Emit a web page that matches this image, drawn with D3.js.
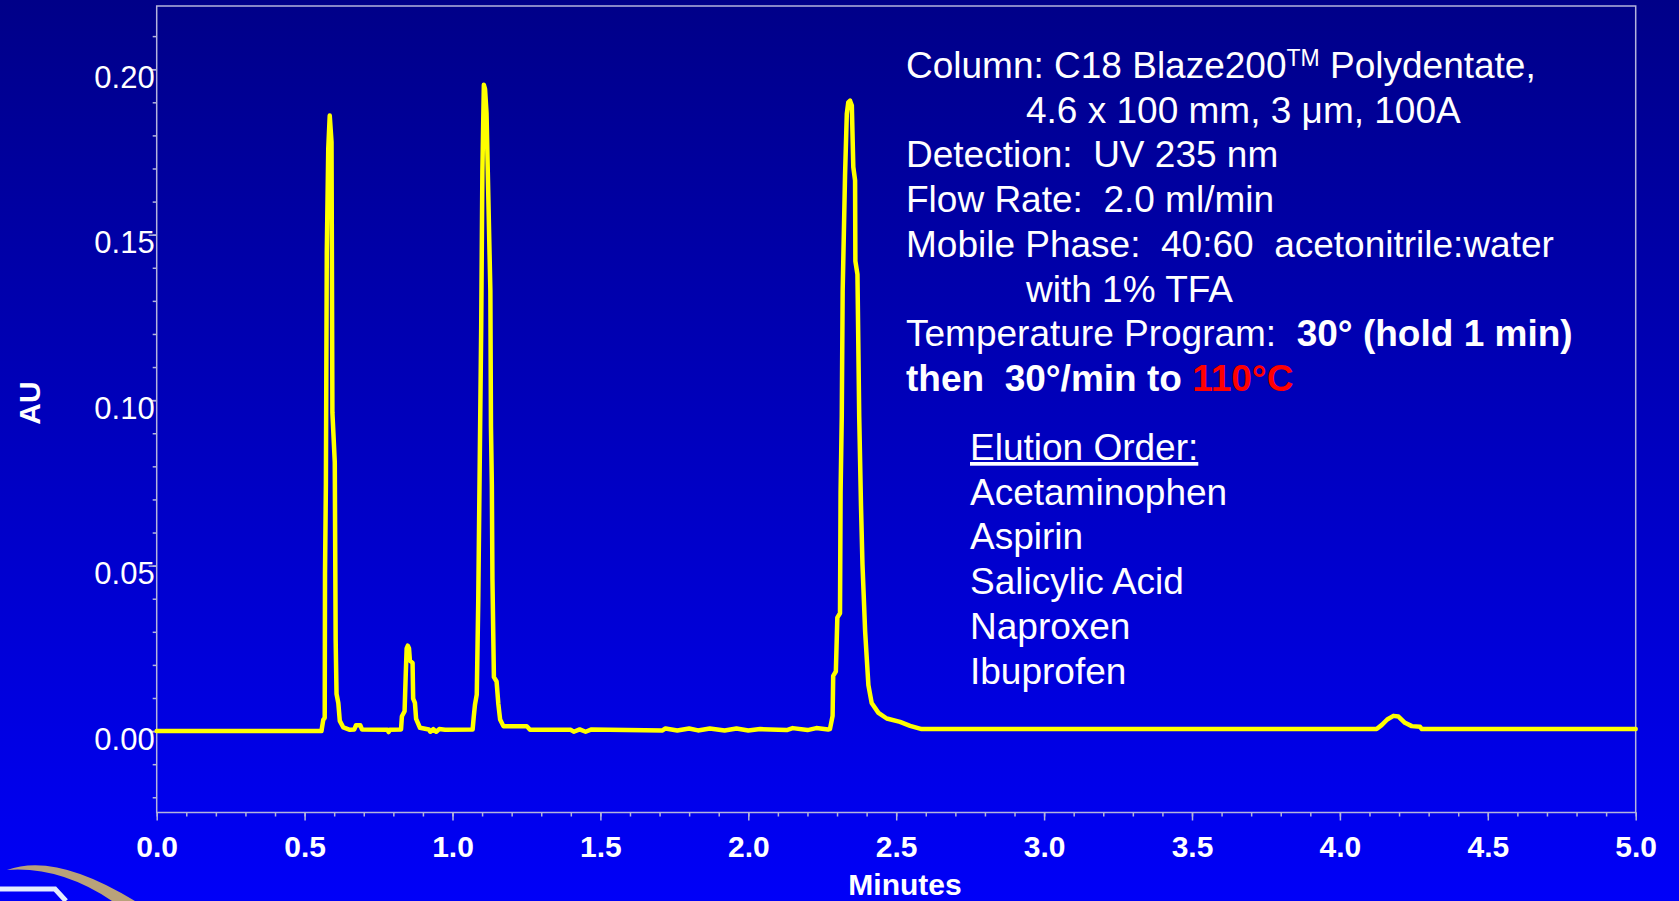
<!DOCTYPE html>
<html>
<head>
<meta charset="utf-8">
<script src="https://cdn.jsdelivr.net/npm/d3@7"></script>
<style>
  html, body { margin: 0; padding: 0; overflow: hidden; background: #0000c0; }
  svg { display: block; font-family: 'Liberation Sans', Arial, sans-serif; }
  .note { fill: #fff; font-size: 37px; }
  .axis text { fill: #fff; }
  .axis line { stroke: #b4b4dc; stroke-width: 1.5; }
</style>
</head>
<body>
<div id="chart"></div>
<script>
// chromatogram trace (minutes, AU)
const traceTime = [
  0.000, 0.557, 0.563, 0.568, 0.569, 0.572, 0.575, 0.580, 0.585, 0.591,
  0.594, 0.602, 0.605, 0.608, 0.614, 0.619, 0.631, 0.653, 0.668, 0.674,
  0.688, 0.694, 0.780, 0.784, 0.788, 0.826, 0.829, 0.838, 0.842, 0.845,
  0.849, 0.853, 0.856, 0.865, 0.867, 0.873, 0.877, 0.890, 0.920, 0.925,
  0.935, 0.945, 0.955, 0.975, 1.068, 1.072, 1.076, 1.082, 1.087, 1.097,
  1.101, 1.106, 1.110, 1.115, 1.128, 1.130, 1.133, 1.135, 1.140, 1.149,
  1.155, 1.161, 1.172, 1.251, 1.262, 1.400, 1.410, 1.430, 1.450, 1.470,
  1.710, 1.720, 1.760, 1.800, 1.830, 1.870, 1.920, 1.960, 2.000, 2.040,
  2.130, 2.150, 2.200, 2.230, 2.270, 2.276, 2.285, 2.287, 2.296, 2.301,
  2.310, 2.312, 2.316, 2.319, 2.327, 2.333, 2.338, 2.344, 2.350, 2.355,
  2.361, 2.362, 2.369, 2.375, 2.381, 2.386, 2.395, 2.406, 2.417, 2.440,
  2.468, 2.513, 2.547, 2.586, 4.124, 4.141, 4.160, 4.181, 4.198, 4.220,
  4.243, 4.271, 4.277, 5.000
];
const traceAU = [
  0.0000, 0.0000, 0.0034, 0.0040, 0.0476, 0.0746, 0.1447, 0.1760, 0.1860, 0.1780,
  0.0962, 0.0813, 0.0275, 0.0112, 0.0085, 0.0031, 0.0011, 0.0004, 0.0005, 0.0018,
  0.0018, 0.0005, 0.0004, -0.0003, 0.0004, 0.0005, 0.0045, 0.0060, 0.0173, 0.0250,
  0.0258, 0.0250, 0.0213, 0.0206, 0.0098, 0.0085, 0.0037, 0.0010, 0.0005, -0.0002,
  0.0006, -0.0002, 0.0006, 0.0004, 0.0005, 0.0045, 0.0080, 0.0110, 0.0390, 0.1217,
  0.1690, 0.1953, 0.1940, 0.1868, 0.1330, 0.0921, 0.0746, 0.0460, 0.0163, 0.0150,
  0.0082, 0.0035, 0.0015, 0.0015, 0.0004, 0.0004, -0.0002, 0.0005, -0.0002, 0.0005,
  0.0002, 0.0008, 0.0002, 0.0008, 0.0002, 0.0008, 0.0002, 0.0008, 0.0002, 0.0006,
  0.0003, 0.0009, 0.0003, 0.0009, 0.0005, 0.0006, 0.0046, 0.0167, 0.0180, 0.0343,
  0.0356, 0.0721, 0.0952, 0.1329, 0.1677, 0.1865, 0.1900, 0.1905, 0.1890, 0.1704,
  0.1664, 0.1420, 0.1380, 0.0949, 0.0680, 0.0503, 0.0301, 0.0139, 0.0085, 0.0055,
  0.0038, 0.0028, 0.0016, 0.0006, 0.0006, 0.0018, 0.0035, 0.0046, 0.0044, 0.0025,
  0.0015, 0.0013, 0.0006, 0.0006
];

const xTicks = [0, 0.5, 1, 1.5, 2, 2.5, 3, 3.5, 4, 4.5, 5];
const yTicks = [0, 0.05, 0.1, 0.15, 0.2];
const elutionOrder = ['Acetaminophen', 'Aspirin', 'Salicylic Acid', 'Naproxen', 'Ibuprofen'];

const width = 1679;
const height = 901;
const sp = '\u00a0'; // keeps the double spaces of the slide text

const svg = d3
  .select('#chart')
  .append('svg')
  .attr('width', width)
  .attr('height', height);

// background gradient, dark navy to bright blue
const grad = svg
  .append('defs')
  .append('linearGradient')
  .attr('id', 'bg')
  .attr('x1', 0)
  .attr('y1', 0)
  .attr('x2', 0)
  .attr('y2', 1);
grad.append('stop').attr('offset', '0%').attr('stop-color', '#000088');
grad.append('stop').attr('offset', '100%').attr('stop-color', '#0000f8');
svg.append('rect').attr('width', width).attr('height', height).attr('fill', 'url(#bg)');

const xScale = d3.scaleLinear().domain([0, 5]).range([156.7, 1635.7]);
const yScale = d3.scaleLinear().domain([-0.0246, 0.2191]).range([812.5, 6]);

// plot frame
svg
  .append('rect')
  .attr('x', xScale(0))
  .attr('y', yScale(0.2191))
  .attr('width', xScale(5) - xScale(0))
  .attr('height', yScale(-0.0246) - yScale(0.2191))
  .attr('fill', 'none')
  .attr('stroke', '#b4b4dc')
  .attr('stroke-width', 1.5);

// minor ticks
const yMinor = d3.range(-2, 22).map((i) => i / 100);
const xMinor = d3.range(0, 51).map((i) => i / 10);
svg
  .append('g')
  .attr('class', 'axis')
  .attr('transform', `translate(${xScale(0)}, 0)`)
  .call(d3.axisLeft(yScale).tickValues(yMinor).tickSize(4).tickSizeOuter(0).tickFormat(''))
  .call((g) => g.select('.domain').remove());
svg
  .append('g')
  .attr('class', 'axis')
  .attr('transform', `translate(0, ${yScale(-0.0246)})`)
  .call(d3.axisBottom(xScale).tickValues(xMinor).tickSize(4).tickSizeOuter(0).tickFormat(''))
  .call((g) => g.select('.domain').remove());

// major ticks + labels
const yAxis = d3.axisLeft(yScale).tickValues(yTicks).tickSize(8).tickSizeOuter(0).tickFormat(d3.format('.2f'));
svg
  .append('g')
  .attr('class', 'axis')
  .attr('transform', `translate(${xScale(0)}, 0)`)
  .call(yAxis)
  .call((g) => g.select('.domain').remove())
  .call((g) =>
    g
      .selectAll('text')
      .attr('x', -2)
      .attr('dy', 18)
      .style('font-size', '31px')
      .style('font-family', "'Liberation Sans', Arial, sans-serif")
  );

const xAxis = d3.axisBottom(xScale).tickValues(xTicks).tickSize(8).tickSizeOuter(0).tickFormat(d3.format('.1f'));
svg
  .append('g')
  .attr('class', 'axis')
  .attr('transform', `translate(0, ${yScale(-0.0246)})`)
  .call(xAxis)
  .call((g) => g.select('.domain').remove())
  .call((g) =>
    g
      .selectAll('text')
      .attr('y', 44.5)
      .attr('dy', 0)
      .style('font-size', '30px')
      .style('font-weight', 'bold')
      .style('font-family', "'Liberation Sans', Arial, sans-serif")
  );

// axis titles
svg
  .append('text')
  .attr('x', 905)
  .attr('y', 895)
  .attr('text-anchor', 'middle')
  .attr('fill', '#fff')
  .style('font-size', '30px')
  .style('font-weight', 'bold')
  .text('Minutes');
svg
  .append('text')
  .attr('transform', 'translate(40, 403) rotate(-90)')
  .attr('text-anchor', 'middle')
  .attr('fill', '#fff')
  .style('font-size', '30px')
  .style('font-weight', 'bold')
  .text('AU');

// trace
const points = traceTime.map((t, i) => [t, traceAU[i]]);
const line = d3
  .line()
  .x((d) => xScale(d[0]))
  .y((d) => yScale(d[1]));
svg
  .append('path')
  .datum(points)
  .attr('d', line)
  .attr('fill', 'none')
  .attr('stroke', '#ffff00')
  .attr('stroke-width', 4.5)
  .attr('stroke-linejoin', 'round')
  .attr('stroke-linecap', 'round');

// run conditions
const notes = svg.append('g').attr('class', 'note');
const noteX = 906;
const indentX = 1026;
const lineGap = 44.7;
const noteTop = 78;

let txt = notes.append('text').attr('x', noteX).attr('y', noteTop);
txt.append('tspan').text('Column: C18 Blaze200');
txt.append('tspan').attr('dy', -12).style('font-size', '23px').text('TM');
txt.append('tspan').attr('dy', 12).text(' Polydentate,');

notes.append('text').attr('x', indentX).attr('y', noteTop + lineGap).text('4.6 x 100 mm, 3 \u03bcm, 100A');
notes.append('text').attr('x', noteX).attr('y', noteTop + lineGap * 2).text(`Detection:${sp} UV 235 nm`);
notes.append('text').attr('x', noteX).attr('y', noteTop + lineGap * 3).text(`Flow Rate:${sp} 2.0 ml/min`);
notes
  .append('text')
  .attr('x', noteX)
  .attr('y', noteTop + lineGap * 4)
  .text(`Mobile Phase:${sp} 40:60${sp} acetonitrile:water`);
notes.append('text').attr('x', indentX).attr('y', noteTop + lineGap * 5).text('with 1% TFA');

txt = notes.append('text').attr('x', noteX).attr('y', noteTop + lineGap * 6);
txt.append('tspan').text(`Temperature Program:${sp} `);
txt.append('tspan').style('font-weight', 'bold').text('30\u00b0 (hold 1 min)');

txt = notes.append('text').attr('x', noteX).attr('y', noteTop + lineGap * 7).style('font-weight', 'bold');
txt.append('tspan').text(`then${sp} 30\u00b0/min to `);
txt.append('tspan').attr('fill', '#ff0000').text('110\u00b0C');

// elution order
const elX = 970;
const elTop = 460;
notes
  .append('text')
  .attr('x', elX)
  .attr('y', elTop)
  .style('text-decoration', 'underline')
  .text('Elution Order:');
notes
  .selectAll('text.compound')
  .data(elutionOrder)
  .join('text')
  .attr('class', 'compound')
  .attr('x', elX)
  .attr('y', (d, i) => elTop + lineGap * (i + 1))
  .text((d) => d);

// logo fragment in the corner
svg
  .append('path')
  .attr('d', 'M7,870 Q55,852 135,901 L112,901 Q60,866 7,870 Z')
  .attr('fill', '#b9a27a');
svg
  .append('path')
  .attr('d', 'M0,889 L55,889 L66,901')
  .attr('fill', 'none')
  .attr('stroke', '#e4ecff')
  .attr('stroke-width', 5);
</script>
</body>
</html>
